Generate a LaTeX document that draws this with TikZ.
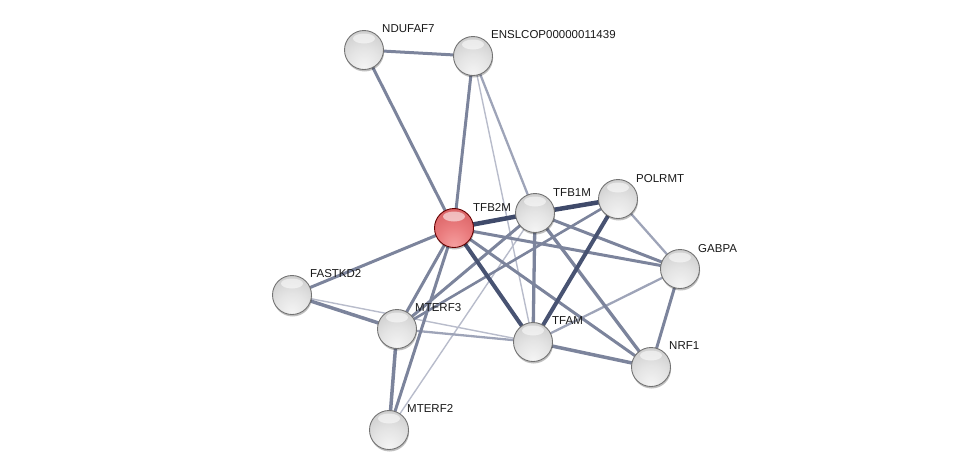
\documentclass[tikz,border=0pt]{standalone}
\usepackage{fontspec}
\setmainfont{Liberation Sans}
\usetikzlibrary{backgrounds,shadows}
\definecolor{edDark}{HTML}{3F4A6A}
\definecolor{edMid}{HTML}{7C849C}
\definecolor{edLight}{HTML}{9EA4B8}
\definecolor{edThin}{HTML}{B8BCCB}
\pgfdeclareradialshading{sphgray}{\pgfpoint{0bp}{-24bp}}{color(0bp)=(rgb,255:red,245;green,245;blue,245); color(20bp)=(rgb,255:red,228;green,228;blue,228); color(40bp)=(rgb,255:red,203;green,203;blue,203); color(58bp)=(rgb,255:red,172;green,172;blue,172); color(76bp)=(rgb,255:red,145;green,145;blue,145)}
\pgfdeclareradialshading{sphred}{\pgfpoint{0bp}{-24bp}}{color(0bp)=(rgb,255:red,246;green,160;blue,160); color(20bp)=(rgb,255:red,234;green,124;blue,126); color(40bp)=(rgb,255:red,216;green,96;blue,98); color(58bp)=(rgb,255:red,194;green,72;blue,74); color(76bp)=(rgb,255:red,170;green,56;blue,58)}
\tikzset{
  ballbase/.style={circle, minimum size=39pt, inner sep=0pt, line width=0.9pt,
    drop shadow={shadow xshift=0.6pt, shadow yshift=-2pt, opacity=0.25, fill=black},
    path picture={\fill[white, opacity=0.55] ([yshift=11.5pt]path picture bounding box.center) ellipse (11pt and 5pt);}},
  grayball/.style={ballbase, shading=sphgray, draw=black!55},
  redball/.style={ballbase, shading=sphred, draw=red!40!black},
  lab/.style={anchor=base west, inner sep=0pt, font=\fontsize{11.5}{13}\selectfont, text=black!90},
  eDark/.style={draw=edDark, line width=4.5pt},
  eMid/.style={draw=edMid, line width=3pt},
  eLight/.style={draw=edLight, line width=2.3pt},
  eThin/.style={draw=edThin, line width=1.4pt}
}
\begin{document}
\begin{tikzpicture}[x=1pt,y=-1pt]
\useasboundingbox (0,0) rectangle (976,475);
% nodes
\node[grayball] (NDUFAF7) at (364,50) {};
\node[grayball] (ENSL) at (473,56) {};
\node[redball] (TFB2M) at (454,228) {};
\node[grayball] (TFB1M) at (535,213) {};
\node[grayball] (POLRMT) at (618,199) {};
\node[grayball] (GABPA) at (680,269) {};
\node[grayball] (FASTKD2) at (292,295) {};
\node[grayball] (MTERF3) at (397,329) {};
\node[grayball] (TFAM) at (533,342) {};
\node[grayball] (NRF1) at (651,367) {};
\node[grayball] (MTERF2) at (389,430) {};
% labels
\node[lab] (lNDUFAF7) at (382,32.5) {NDUFAF7};
\node[lab] (lENSL) at (491,38.5) {ENSLCOP00000011439};
\node[lab] (lTFB2M) at (473,211.5) {TFB2M};
\node[lab] (lTFB1M) at (553,196) {TFB1M};
\node[lab] (lPOLRMT) at (636,182.7) {POLRMT};
\node[lab] (lGABPA) at (698,252.7) {GABPA};
\node[lab] (lFASTKD2) at (310,277.3) {FASTKD2};
\node[lab] (lMTERF3) at (415,311.7) {MTERF3};
\node[lab] (lTFAM) at (552,324.7) {TFAM};
\node[lab] (lNRF1) at (669,349.3) {NRF1};
\node[lab] (lMTERF2) at (407,412.7) {MTERF2};
% edges
\begin{scope}[on background layer]
\draw[eThin] (ENSL.center) -- (TFAM.center);
\draw[eThin] (TFB1M.center) -- (MTERF2.center);
\draw[eThin] (FASTKD2.center) -- (TFAM.center);
\draw[eLight] (ENSL.center) -- (TFB1M.center);
\draw[eLight] (POLRMT.center) -- (GABPA.center);
\draw[eLight] (GABPA.center) -- (TFAM.center);
\draw[eLight] (MTERF3.center) -- (TFAM.center);
\draw[eMid] (NDUFAF7.center) -- (ENSL.center);
\draw[eMid] (NDUFAF7.center) -- (TFB2M.center);
\draw[eMid] (ENSL.center) -- (TFB2M.center);
\draw[eMid] (TFB2M.center) -- (FASTKD2.center);
\draw[eMid] (TFB2M.center) -- (MTERF3.center);
\draw[eMid] (TFB2M.center) -- (MTERF2.center);
\draw[eMid] (TFB2M.center) -- (NRF1.center);
\draw[eMid] (TFB2M.center) -- (GABPA.center);
\draw[eMid] (TFB1M.center) -- (GABPA.center);
\draw[eMid, line width=3.3pt] (TFB1M.center) -- (TFAM.center);
\draw[eMid, line width=3.3pt] (TFB1M.center) -- (NRF1.center);
\draw[eMid] (TFB1M.center) -- (MTERF3.center);
\draw[eMid, line width=2.6pt] (POLRMT.center) -- (MTERF3.center);
\draw[eMid] (GABPA.center) -- (NRF1.center);
\draw[eMid, line width=3.5pt] (FASTKD2.center) -- (MTERF3.center);
\draw[eMid, line width=3.5pt] (MTERF3.center) -- (MTERF2.center);
\draw[eMid, line width=3.5pt] (TFAM.center) -- (NRF1.center);
\draw[eDark] (TFB2M.center) -- (TFB1M.center);
\draw[eDark] (TFB1M.center) -- (POLRMT.center);
\draw[eDark, line width=4pt, draw=edDark!85!edMid] (POLRMT.center) -- (TFAM.center);
\draw[eDark, line width=4pt, draw=edDark!85!edMid] (TFB2M.center) -- (TFAM.center);
\end{scope}
\end{tikzpicture}
\end{document}
